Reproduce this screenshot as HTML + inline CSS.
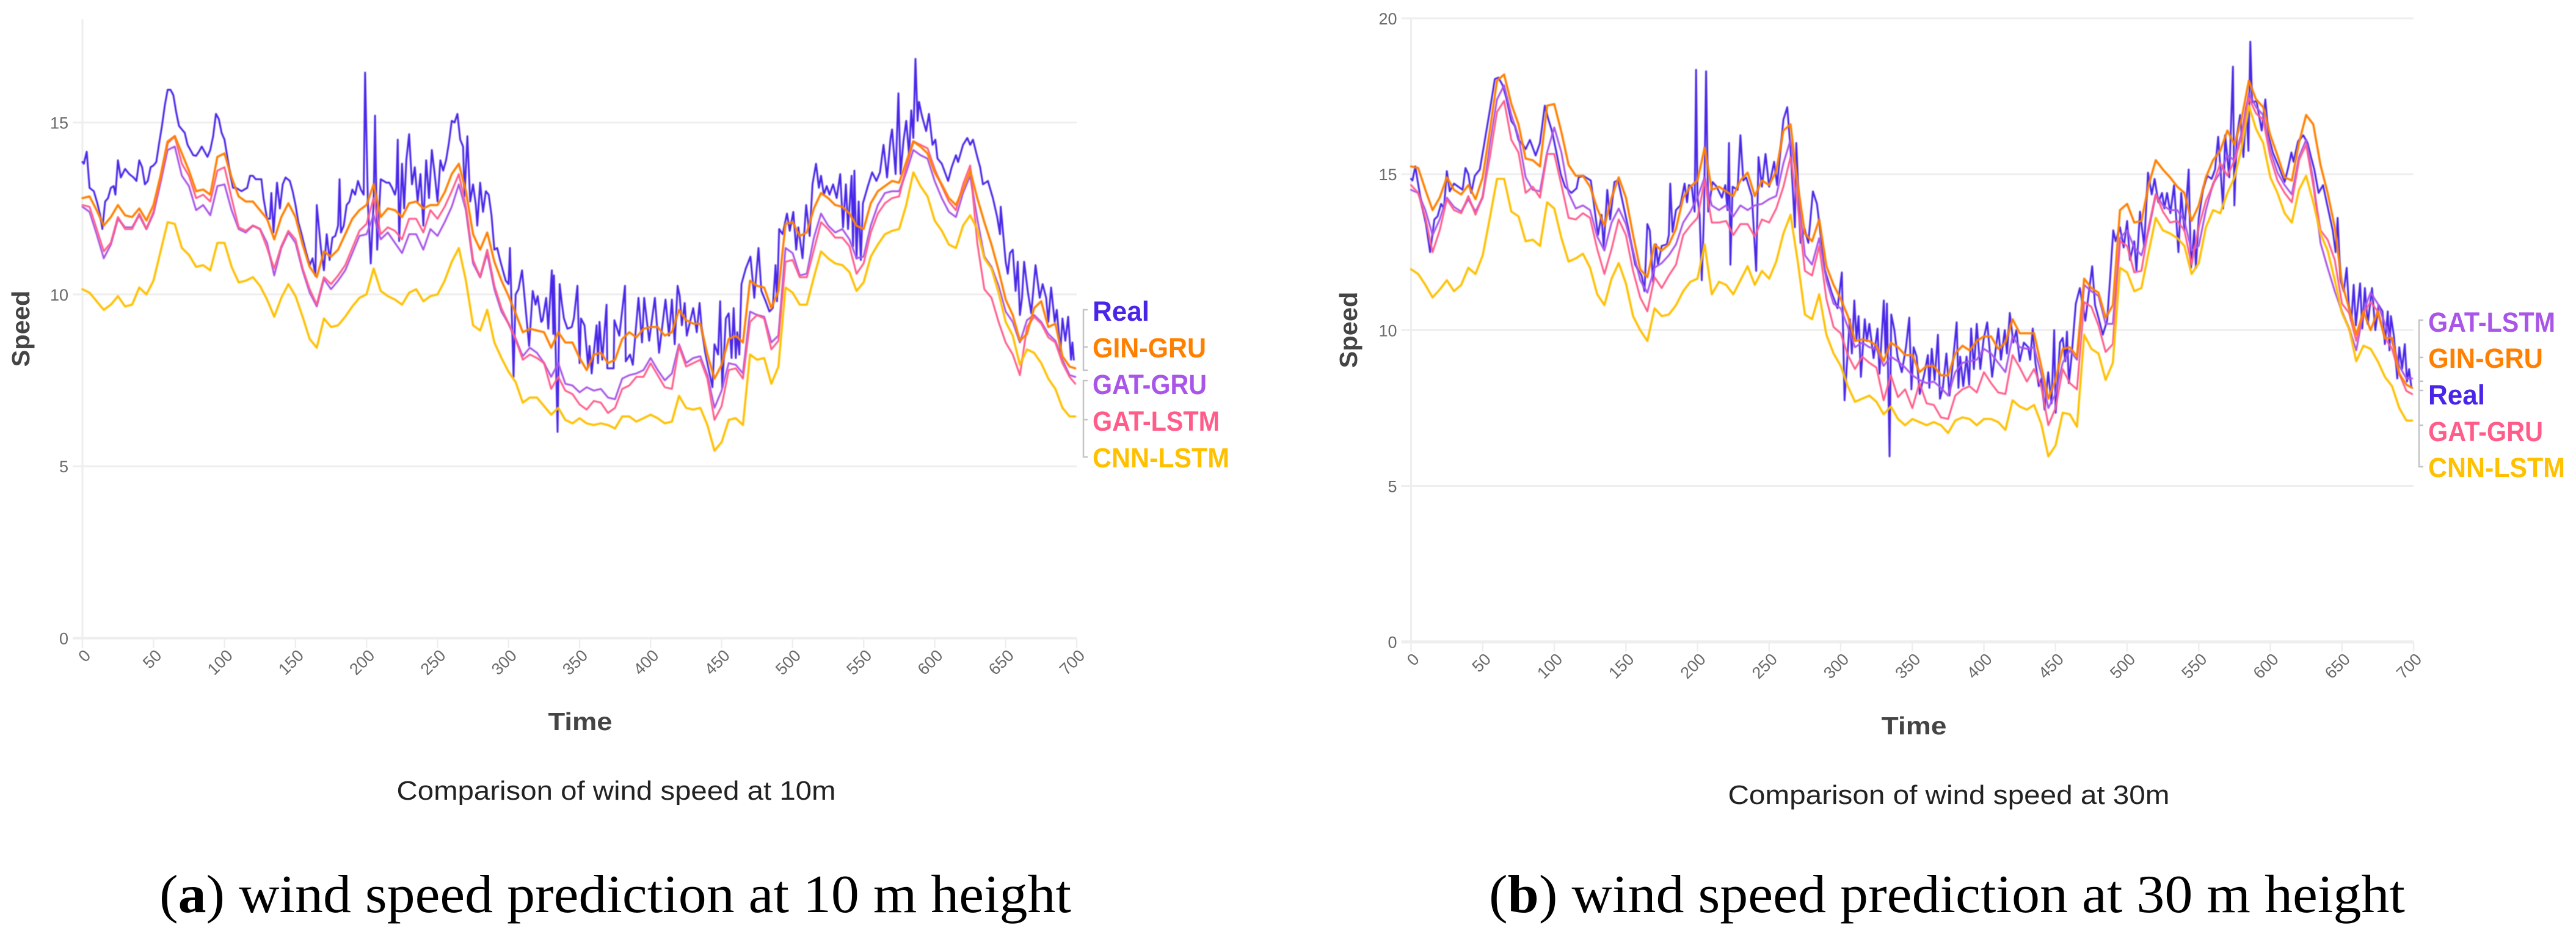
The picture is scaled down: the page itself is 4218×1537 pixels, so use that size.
<!DOCTYPE html>
<html lang="en">
<head>
<meta charset="utf-8">
<title>Wind speed prediction comparison</title>
<style>
  html, body { margin: 0; padding: 0; background: #fff; }
  body { width: 4218px; height: 1537px; overflow: hidden; }
  svg { display: block; }
  .tick { font-family: "Liberation Sans", sans-serif; font-size: 27px; fill: #6a6a6a; }
  .axis-title { font-family: "Liberation Sans", sans-serif; font-size: 41px; font-weight: bold; fill: #444; }
  .legend { font-family: "Liberation Sans", sans-serif; font-size: 45px; font-weight: bold; }
  .sub { font-family: "Liberation Sans", sans-serif; font-size: 44px; fill: #222; }
  .cap { font-family: "Liberation Serif", serif; font-size: 88px; fill: #000; }
  .guide { fill: none; stroke: #c4c4c4; stroke-width: 2.5; }
</style>
</head>
<body>
<svg id="figure" xmlns="http://www.w3.org/2000/svg" width="4218" height="1537" viewBox="0 0 4218 1537">
  <defs>
    <filter id="soft" x="-2%" y="-2%" width="104%" height="104%"><feGaussianBlur stdDeviation="0.7"/></filter>
  </defs>
  <rect x="0" y="0" width="4218" height="1537" fill="#fff"/>

  <g id="chart10">
    <text class="axis-title" transform="translate(48,538) rotate(-90)" text-anchor="middle" textLength="125" lengthAdjust="spacingAndGlyphs">Speed</text>
    <text class="axis-title" x="950" y="1195" text-anchor="middle" textLength="105" lengthAdjust="spacingAndGlyphs">Time</text>
    <text class="sub" x="1009" y="1309" text-anchor="middle" textLength="719" lengthAdjust="spacingAndGlyphs">Comparison of wind speed at 10m</text>
    <path class="guide" d="M1781 507H1774V606H1781M1781 568H1774M1781 623H1774V748H1781M1781 687H1774"/>
    <text class="legend" x="1789" y="525" fill="#4a25e8" textLength="93" lengthAdjust="spacingAndGlyphs">Real</text>
    <text class="legend" x="1789" y="585" fill="#ff8000" textLength="186" lengthAdjust="spacingAndGlyphs">GIN-GRU</text>
    <text class="legend" x="1789" y="645" fill="#a855e8" textLength="187" lengthAdjust="spacingAndGlyphs">GAT-GRU</text>
    <text class="legend" x="1789" y="705" fill="#ff5c8a" textLength="208" lengthAdjust="spacingAndGlyphs">GAT-LSTM</text>
    <text class="legend" x="1789" y="765" fill="#ffc000" textLength="224" lengthAdjust="spacingAndGlyphs">CNN-LSTM</text>
  </g>

  <g id="chart30">
    <text class="axis-title" transform="translate(2222,540) rotate(-90)" text-anchor="middle" textLength="125" lengthAdjust="spacingAndGlyphs">Speed</text>
    <text class="axis-title" x="3134" y="1202" text-anchor="middle" textLength="107" lengthAdjust="spacingAndGlyphs">Time</text>
    <text class="sub" x="3191" y="1316" text-anchor="middle" textLength="723" lengthAdjust="spacingAndGlyphs">Comparison of wind speed at 30m</text>
    <path class="guide" d="M3968 524H3961V639H3968M3968 585H3961V624H3968M3968 696H3961V642M3968 764H3961V640"/>
    <text class="legend" x="3976" y="543" fill="#a855e8" textLength="208" lengthAdjust="spacingAndGlyphs">GAT-LSTM</text>
    <text class="legend" x="3976" y="602" fill="#ff8000" textLength="188" lengthAdjust="spacingAndGlyphs">GIN-GRU</text>
    <text class="legend" x="3976" y="662" fill="#4a25e8" textLength="93" lengthAdjust="spacingAndGlyphs">Real</text>
    <text class="legend" x="3976" y="722" fill="#ff5c8a" textLength="188" lengthAdjust="spacingAndGlyphs">GAT-GRU</text>
    <text class="legend" x="3976" y="781" fill="#ffc000" textLength="224" lengthAdjust="spacingAndGlyphs">CNN-LSTM</text>
  </g>

  <text class="cap" x="261" y="1493" textLength="1493" lengthAdjust="spacingAndGlyphs">(<tspan font-weight="bold">a</tspan>) wind speed prediction at 10 m height</text>
  <text class="cap" x="2438" y="1493" textLength="1500" lengthAdjust="spacingAndGlyphs">(<tspan font-weight="bold">b</tspan>) wind speed prediction at 30 m height</text>
</svg>

<script>
// Shared axis tick labels
const xTickLabels = [0,50,100,150,200,250,300,350,400,450,500,550,600,650,700];
const yTickLabels10 = [0,5,10,15];
const yTickLabels30 = [0,5,10,15,20];

// Sample times for the model series (every 5 steps; final reading at 699)
const modelTimes = [
0,5,10,15,20,25,30,35,40,45,
50,55,60,65,70,75,80,85,90,95,
100,105,110,115,120,125,130,135,140,145,
150,155,160,165,170,175,180,185,190,195,
200,205,210,215,220,225,230,235,240,245,
250,255,260,265,270,275,280,285,290,295,
300,305,310,315,320,325,330,335,340,345,
350,355,360,365,370,375,380,385,390,395,
400,405,410,415,420,425,430,435,440,445,
450,455,460,465,470,475,480,485,490,495,
500,505,510,515,520,525,530,535,540,545,
550,555,560,565,570,575,580,585,590,595,
600,605,610,615,620,625,630,635,640,645,
650,655,660,665,670,675,680,685,690,695,
699];

// ---- 10 m chart ----
const realTimes10 = [
0,1,3,5,8,10.5,12.5,14,16,18,
20,22,23.2,25,27,30,33,36,38,40,
42,44,46,48,50,52,54,56,58,60,
62,64,66,68,70,72,74,76,78,80,
82,84,86,88,90,92,94,96,98,100,
102,104,106,108,110,112,114,116,118,120,
122,124,126,127.5,130,132,133,134.5,137,139,
141,143,146,148,150,152,154,157,160,162,
164,165,168,170,172,174,176,178,180,181,
182,184,186,188,190,192,194,196,198,199,
201,203,205,206,207.5,210,212,214,216,218,
220,221,222,223,225,226.5,228,230,232,234,
236,238,240,242,244,246,248,250,252,254,
256,258,260,262,264,266,268,269,271,273,
275,277,278,280,282,284,286,288,290,292,
294,296,298,300,301,303.5,305,307,309.5,312,
314.5,317,319,320.5,323,324,326.5,328,330.5,331.5,
332,334.5,336,337.5,339,341.5,344.5,346,348.5,350,
351,353.5,356,357,358.5,362,363,364,366,369,
369.5,374,374.5,378,382,382.5,385.5,387.5,391.5,394,
395.5,399,403,406,410.5,413,415,417,419,420.5,
422,424,425.5,430,432.5,434.5,436,438.5,441,443.5,
445,447.5,449,450.5,453,455,457,458.5,460,461,
462.5,464,467,470.3,473,476,478,481,483.7,486,
488,489,490.5,493,496,498,500.5,502.5,504,507,
509.5,512,514,516.5,518.5,520,522,524,526,528.5,
531,533.5,535.5,537.5,539,541.5,542.5,543.5,545,546.5,
548,549.5,553,556,559,561.5,564,566.5,569,570,
572.5,574.5,576,578,580,582,583.5,585,586.5,588,
589,591,594,596,598.5,600.5,602,605,609.5,612,
615,616.5,620,623,625,627,630,632,634,637.5,
641,644,646,646.5,650,651.5,653,655,657,658.5,
660,661.5,663,665.5,668,671,674,676,678.5,680,
682,684.5,686,688.5,690,692,694,696,697,698];
const realValues10 = [
13.85,13.8,14.15,13.1,13,12.65,12.3,11.9,12.7,12.8,
13.1,13.15,12.9,13.9,13.4,13.65,13.5,13.4,13.3,13.9,
13.7,13.2,13.3,13.7,13.75,13.85,14.4,14.9,15.5,15.95,
15.95,15.8,15.3,14.9,14.8,14.7,14.35,14.2,14.05,14.03,
14.15,14.3,14.15,14,14.2,14.6,15.25,15.1,14.7,14.5,
14,13.5,13.1,13.1,13.05,13,13.05,13.1,13.45,13.45,
13.35,13.35,13.35,12.8,12.2,12.2,12.95,11.8,13.25,12.5,
13.2,13.4,13.3,13,12.6,12.1,11.8,11.3,10.85,11.05,
10.55,12.6,11.3,10.7,11.75,11,11.65,11.7,12,13.35,
11.8,12,12.6,12.7,13.05,12.9,13.3,13.05,12.9,16.45,
12.6,10.9,12.7,15.2,11.3,13.35,13.3,13.25,13.25,13.1,
12.9,13.1,14.5,11.55,13.8,12.5,13.9,14.66,13.2,13.7,
12.7,13.5,12,13.9,12.8,14.2,13.5,12.7,13.9,13.6,
13.9,14.4,15.05,15,15.25,14.5,14.3,12.85,14.6,12.7,
13.2,12.6,12,13.25,12.4,13,12.9,12.3,11.3,11.35,
11,10.7,10.4,10.3,11.35,7.6,10,10.15,10.7,9.6,
8.5,10.1,9.7,9.95,9.2,9.25,9.9,9,10.7,8.85,
10.55,6,10.3,9.75,9.3,9,9.05,9.3,10.25,8,
9.3,9.1,7.9,8.5,7.7,9.1,8,9.2,8.1,9.7,
7.85,7.85,9.25,8.8,10.25,8.05,8.25,7.95,9.9,8.6,
9.9,8.65,9.9,8.3,9.85,8.8,9.85,8.55,10.25,9.95,
9.1,9.75,8.8,9.6,8.9,9.75,9,8.3,7.8,7.3,
8.55,8.25,9.8,7.3,9.3,9.45,8.15,9.6,8.15,8.9,
8.25,10.3,10.75,11.1,9.9,11.35,10.1,9.8,9.5,9.6,
10.85,9.8,11.9,11.75,12.35,11.85,12.4,11.3,11.95,11.05,
12.6,11.7,13.2,13.8,13.1,13.45,12.9,13.15,12.9,13.2,
12.8,13.5,11.95,13.2,11.9,13.45,11.4,13.6,11.05,12.7,
11,12.65,13.15,13.55,13.3,13.55,14.35,13.4,14.55,14.8,
13.5,15.85,13.5,14.45,15.05,14.05,15.35,14.55,16.85,15.05,
15.6,15.2,14.75,15.25,14.35,14.5,13.95,13.8,13.3,13.7,
14.05,13.85,14.35,14.55,14.35,14.5,14,13.7,13.2,13.3,
12.8,12.25,11.75,12.55,10.95,10.6,11.2,11.3,10.1,10.95,
9.4,9.9,10.95,10.1,9.45,10.85,9.9,10.3,9.9,9.2,
10.2,9.2,9.55,8.35,9.3,8.65,9.35,8.1,8.6,8.1];
const ginGru10 = [
12.8,12.85,12.45,12,12.25,12.6,12.3,12.25,12.5,12.15,
12.6,13.45,14.45,14.6,14.1,13.6,13,13.05,12.9,14,
14.1,13.4,12.85,12.7,12.7,12.45,12.2,11.6,12.25,12.65,
12.25,11.45,10.8,10.5,11.25,11.1,11.3,11.75,12.2,12.45,
12.6,13.2,12.25,12.5,12.45,12.25,12.65,12.7,12.5,12.6,
12.6,12.97,13.5,13.8,13,11.75,11.3,11.8,10.95,10.4,
9.95,9.45,8.9,9,8.95,8.9,8.45,8.9,8.6,8.6,
8.15,7.8,8.25,8.3,8,8.1,8.7,8.9,8.75,9,
9.05,9.05,8.8,8.9,9.55,9.25,9.15,9.15,8.25,7.55,
7.95,8.7,8.8,8.6,10.4,10.25,10.2,9.6,10.1,12.05,
12.1,11.7,11.8,12.5,12.95,12.8,12.6,12.55,12.35,12,
11.9,12.65,13,13.15,13.3,13.25,13.85,14.45,14.3,14.1,
13.55,13.2,12.8,12.6,13.05,13.6,12.8,12.1,11.45,10.7,
9.85,9.4,8.65,8.85,9.6,9.8,9.05,9.15,8.2,7.9,
7.85];
const gatGru10 = [
12.55,12.4,11.75,11.05,11.45,12.2,11.95,11.95,12.3,11.9,
12.35,13.25,14.2,14.3,13.45,13.15,12.45,12.6,12.3,13.15,
13.2,12.45,11.9,11.8,12,11.9,11.5,10.55,11.35,11.8,
11.5,10.7,10.05,9.65,10.45,10.15,10.4,10.7,11.2,11.7,
11.75,12.3,11.6,11.8,11.5,11.2,11.75,11.75,11.3,11.9,
11.7,12.1,12.55,13.2,12.45,10.9,10.5,11.2,10.15,9.5,
9.15,8.7,8.2,8.45,8.3,8,7.6,8,7.4,7.35,
7.15,7.3,7.2,7.25,7,6.95,7.55,7.65,7.7,7.8,
8.15,7.8,7.5,7.7,8.55,8,8.15,8.2,7.65,6.7,
7.2,8,7.95,7.7,9.5,9.4,9.35,8.6,8.8,11.35,
11.2,10.55,10.6,11.65,12.35,12,11.8,11.9,11.6,11.05,
11.1,12,12.6,12.95,13,13,13.55,14.2,14.05,13.95,
13.3,12.8,12.4,12.25,12.95,13.45,12.2,11.1,10.8,10.25,
9.5,9.2,8.6,9.25,9.4,9.2,8.85,8.65,8.1,7.65,
7.6];
const gatLstm10 = [
12.6,12.55,11.9,11.25,11.5,12.25,11.9,11.9,12.35,11.9,
12.4,13.35,14.4,14.6,13.8,13.45,12.8,12.9,12.7,13.6,
13.7,12.8,11.95,11.85,12,11.9,11.35,10.75,11.4,11.85,
11.6,10.75,10.15,9.7,10.5,10.3,10.55,10.85,11.35,11.85,
12.05,12.8,11.75,11.95,11.85,11.6,12.2,12.2,11.8,12.45,
12.2,12.55,13,13.5,12.55,11,10.5,11.3,10.25,9.6,
9.15,8.7,8.1,8.25,8.15,8,7.25,7.6,7.2,7.1,
6.8,6.65,6.9,6.85,6.55,6.7,7.25,7.35,7.6,7.6,
8,7.65,7.3,7.25,8.5,7.9,8,8.1,7.55,6.35,
6.75,7.8,7.85,7.55,9.2,9.4,9.3,8.4,8.65,10.95,
11,10.5,10.5,11.3,12.1,11.9,11.65,11.65,11.4,10.6,
10.9,11.8,12.35,12.65,12.8,12.85,13.7,14.45,14.35,14.25,
13.65,13.15,12.7,12.45,13.2,13.75,11.5,10.15,9.9,9.2,
8.6,8.25,7.65,9.05,9.35,9.15,8.75,8.6,8,7.6,
7.4];
const cnnLstm10 = [
10.15,10.05,9.8,9.55,9.7,9.95,9.65,9.7,10.2,10,
10.4,11.25,12.1,12.05,11.35,11.15,10.8,10.85,10.7,11.5,
11.5,10.8,10.35,10.4,10.5,10.25,9.85,9.35,9.9,10.3,
9.95,9.35,8.7,8.45,9.3,9.05,9.1,9.35,9.65,9.9,
10,10.75,10.1,9.95,9.85,9.7,10.05,10.15,9.8,9.95,
10,10.4,10.95,11.35,10.4,9.1,8.95,9.55,8.6,8.15,
7.75,7.45,6.85,7,7,6.75,6.5,6.7,6.35,6.25,
6.4,6.25,6.2,6.25,6.2,6.1,6.45,6.45,6.3,6.4,
6.5,6.4,6.25,6.3,7.05,6.7,6.65,6.7,6.2,5.45,
5.7,6.35,6.4,6.2,8.25,8.1,8.15,7.4,7.9,10.2,
10.05,9.7,9.7,10.5,11.25,11.05,10.9,10.85,10.65,10.1,
10.35,11.1,11.45,11.75,11.85,11.9,12.6,13.55,13.15,12.85,
12.15,11.85,11.45,11.35,12,12.3,11.9,11.05,10.75,10.05,
9.2,8.8,7.95,8.4,8.3,8,7.55,7.25,6.7,6.45,
6.45];

// ---- 30 m chart ----
const realTimes30 = [
0,1,3,4.5,7.5,10.4,13.3,16.3,18.5,21,
23,25,27,30,33,36,38,40,42,44.5,
48,51,55,58.5,61,64,66.5,70,72.5,75,
78,80,83,87,90,93.4,95.6,98.6,101.5,104.5,
107.5,112,115.6,117,120,125.5,127.5,130.5,133,134.5,
137,139,142,144.5,148,152,156.5,161,163,165,
166.7,169,171,172.4,175,178.6,180,181,182.6,185,
188,191,192.7,194,196,198,199,200,201.5,203,
204.5,206,207.5,210.5,213.4,217,219.4,221,222,223,
224.5,228,230,232,234,238,241,242.6,245,247.5,
250,253.5,255.6,260,262.7,265,268,269,272,274.7,
277.4,280.6,283.4,285.5,288.8,293.7,297.8,300.8,302.7,306.4,
307.8,309.5,311,312.5,314.1,316.8,318.3,320,323,325.7,
327.1,330.1,331.3,332.3,334.1,335.3,337.5,339.7,342.7,345.6,
347.9,349.4,350.9,353,355.2,358.2,360.9,361.9,363.6,365.6,
367.9,369.3,371.3,373.8,376,378.3,381,382.2,383.4,385.6,
387.9,389.7,391.1,393,395,397.5,399.8,402.3,405.7,410.1,
411.9,414.6,416.1,418.1,420.5,422.7,425,427.9,430.9,432.3,
434.1,436,438.3,440.2,442.4,444.9,447.2,449.1,450.1,453.1,
455,456.8,458,459.3,461.2,464.2,467,470.8,475.6,477.6,
480,483,486,488.2,490.3,492,495,497.6,500,502,
505,506.5,509,511.9,514.6,517.2,519.2,521.8,524.4,526,
527.9,530.2,532.8,535.8,537.8,540,543,544.6,546.9,548,
550,552.9,556,559,561.4,563.6,565.2,567,568.5,571.3,
573.9,574.9,576.6,578.9,581.2,583.2,584.7,586,587.3,590.3,
594,596.5,598.7,601.7,606.3,610,612.4,614.7,616.2,619.3,
623,626,628.4,630.7,633.7,636.8,639.8,643.6,645.6,647,
649,651.3,653.3,654.8,656.6,658.2,659.7,662.7,664.2,666,
668,671,673.3,675.6,678.3,680,682,683.2,684.2,686.3,
688.6,690,692,693.9,695.4,696.9,698.4];
const realValues30 = [
14.85,14.8,15.25,14.8,14,13.4,12.5,13.55,13.65,14.05,
13.9,15.1,14.45,14.7,14.6,14.5,15.2,15,14.4,14.95,
15.15,15.95,17.05,18.05,18.1,17.85,17.45,16.7,16.55,16.1,
15.95,15.8,16.1,15.6,16,17.2,16.8,16.35,15.7,15,
14.6,14.4,14.55,14.9,14.95,14.8,14.1,13.05,13.7,12.65,
14.5,13.55,14.75,14.8,14.05,13.2,12.1,11.75,11.25,13.4,
13.2,11.55,12.75,12.1,12.7,12.75,13.05,14.7,13.15,13.85,
14,14.7,14.1,14.65,14.6,13.8,18.35,14.25,13.7,11.6,
13.7,18.3,13.8,14.75,14.6,14.25,14.65,13.85,16,12.1,
14.6,14.5,16.25,14.8,14.9,14.3,11.9,15.55,14.6,15.65,
14.6,15.4,14.65,16.75,17.15,15.8,13.3,16,12.8,13.25,
12.8,14.45,14.05,13.25,11.95,11.2,10.7,11.85,7.75,10.35,
9.25,10.95,9.7,10.45,8.5,10.35,9.65,10.2,9.1,10.05,
8.6,10.95,9.25,10.85,5.95,10.5,10,9.15,8.65,9.45,
10.4,8.1,9.45,9.15,7.95,8.55,9.2,8.15,9.4,8.4,
9.85,7.8,8.15,9.25,7.9,8.95,10.25,8.15,9.15,8.2,
9.15,8.25,10.05,8.75,10.2,8.75,9.7,10.25,8.5,10.05,
9.05,10,9.25,10.55,9.6,10,9,9.6,9.45,9.05,
10.05,8.95,8.2,8.45,7.45,8.65,7.65,10,7.35,9.6,
9.75,9,9.95,8.3,9.15,10.85,11.35,10.3,12.05,10.8,
10.4,9.85,10.3,11.7,13.2,12.85,13.3,12.65,13.5,12.25,
12.85,11.9,13.8,12.7,15.05,14.35,14.85,14.1,14.4,13.9,
14.4,13.75,14.65,12.5,14.4,13.2,15.15,12,13.2,12,
13.6,14.5,14.95,14.85,15.15,16.2,15.15,13.9,16.25,14.9,
18.45,14,16.2,16.9,15.55,17.15,15.75,19.25,17.3,17.35,
16.4,17.4,16.25,15.7,15.2,14.75,15.2,15.7,15.4,16.05,
16.25,16,15.55,15.15,14.4,14.65,14,13.2,12.5,13.6,
11.6,11.25,12,10.8,10.3,11.45,10.15,11.5,10.05,11.35,
10.2,11.35,10,10.8,10.6,9.55,10.6,9.35,10.45,9.8,
8.45,9.45,8.75,9.55,8.35,8.75,8.2];
const ginGru30 = [
15.25,15.2,14.5,13.85,14.25,14.9,14.5,14.35,14.65,14.2,
14.9,16.4,18,18.2,17.25,16.6,15.5,15.45,15.25,17.2,
17.25,16.35,15.3,14.95,14.95,14.6,13.9,13.35,14.25,14.9,
14.25,13.05,11.95,11.7,12.75,12.55,12.75,13.25,14.25,14.6,
14.8,15.85,14.5,14.6,14.45,14.3,14.8,15.05,14.3,14.8,
14.65,15.1,16.4,16.6,14.65,13.1,12.85,13.55,12.05,11.45,
11,10.45,9.65,9.7,9.65,9.5,9,9.6,9.45,9.2,
9.2,8.65,8.85,8.85,8.55,8.55,9.25,9.5,9.35,9.65,
9.8,9.8,9.4,9.6,10.35,9.9,9.9,9.9,8.85,7.8,
8.4,9.4,9.45,9.15,11.65,11.35,11.2,10.4,10.8,13.85,
14.05,13.45,13.5,14.65,15.45,15.15,14.9,14.6,14.4,13.5,
14,14.9,15.45,15.75,16.4,15.95,16.8,18,17.4,17.15,
16.25,15.6,14.9,14.8,16,16.9,16.6,15.3,14.4,13.3,
11.5,10.7,9.85,10.6,10,10.6,9.75,9.75,8.6,8.25,
8.15];
const gatLstm30 = [
14.5,14.4,13.85,13.05,13.55,14.25,13.95,13.8,14.2,13.8,
14.25,15.95,17.4,17.85,16.9,16.2,14.9,14.5,14.45,15.7,
16.5,15.7,14.4,13.9,14,13.85,13,12.55,13.45,13.9,
13.4,12.55,11.6,11.2,12,12.15,12.4,12.75,13.45,13.8,
14.25,14.9,14,13.85,14,13.65,14,13.85,14,14.05,
14.2,14.3,15.35,16.1,14.6,12.4,12.1,12.95,11.6,10.85,
10.7,10.1,9.45,9.6,9.45,9.4,8.85,9.15,9,8.8,
8.55,8.4,8.3,8.35,8.15,7.9,8.65,8.95,9,9.05,
9.4,9.25,8.95,8.65,9.8,9.45,9.4,9.45,8.6,7.5,
7.95,8.95,9.35,9.05,11.45,11.25,11.1,10.2,10.2,12.95,
13.2,12.65,12.4,13.2,14.35,14,13.85,13.85,13.5,12.55,
12.7,13.85,14.7,15.05,15.6,15.45,16.35,17.6,17.15,16.9,
15.75,15.05,14.65,14.35,15.55,16.1,14.8,12.8,12,11.25,
10.6,10.05,9.35,10.6,11.2,10.85,10.2,9.65,8.85,8.45,
8.45];
const gatGru30 = [
14.65,14.4,13.6,12.5,13.2,14.2,13.85,13.75,14.3,13.7,
14.3,15.55,17,17.35,16.1,15.7,14.4,14.6,14.25,15.65,
15.65,14.65,13.6,13.55,13.75,13.6,12.6,11.8,12.6,13.55,
13.05,11.9,11.05,10.6,11.7,11.35,11.75,12.1,13.05,13.35,
13.6,14.8,13.45,13.45,13.5,13.05,13.4,13.4,13,13.55,
13.45,13.9,14.6,15.55,14,11.9,11.75,12.7,11,10.1,
9.9,9.2,8.75,9.15,8.95,8.8,7.75,8.55,7.85,8.1,
7.5,8.3,7.65,7.6,7.2,7.15,7.9,8.1,8.2,8,
8.65,8.3,8,7.95,9.2,8.8,8.35,8.75,8.2,6.95,
7.5,8.75,8.3,8.1,10.9,10.75,10.15,9.3,9.55,12.85,
12.7,11.85,11.9,13.3,14.35,13.8,13.45,13.5,13.2,12.1,
13.3,14.15,14.65,15.35,14.95,15.45,16.2,17.45,16.95,16.75,
15.55,14.8,14.4,14.1,15.45,15.95,14.65,13.2,12.9,12.25,
10.85,10.55,9.65,10.55,10.9,10.6,9.75,9.4,8.6,8.05,
7.95];
const cnnLstm30 = [
11.95,11.8,11.45,11.05,11.3,11.6,11.25,11.45,12,11.8,
12.4,13.6,14.85,14.85,13.8,13.65,12.85,12.9,12.7,14.1,
13.9,12.95,12.2,12.3,12.45,12,11.15,10.8,11.65,12.15,
11.5,10.45,10,9.65,10.7,10.45,10.5,10.8,11.25,11.55,
11.65,12.75,11.15,11.55,11.45,11.15,11.6,12.05,11.45,11.9,
11.65,12.2,13.1,13.7,12.2,10.5,10.35,11.15,9.85,9.25,
8.85,8.2,7.7,7.8,7.9,7.7,7.3,7.55,7.15,6.95,
7.15,7.05,6.95,7.05,6.95,6.7,7.1,7.2,7.15,6.95,
7.15,7.15,7.05,6.8,7.75,7.55,7.45,7.6,7,5.95,
6.3,7.35,7.3,6.9,9.85,9.4,9.25,8.4,8.95,12,
11.85,11.25,11.35,12.5,13.6,13.2,13.1,12.95,12.7,11.8,
12.15,13.3,13.85,13.75,14.4,14.9,15.85,17.2,16.45,16,
14.9,14.4,13.75,13.45,14.5,14.95,14.1,13.1,12.55,11.6,
10.55,10.05,9,9.5,9.4,9,8.5,8.2,7.5,7.1,
7.1];

const SVG_NS = 'http://www.w3.org/2000/svg';

function makeScale(d0, d1, r0, r1) {
  return function (v) { return r0 + (v - d0) * (r1 - r0) / (d1 - d0); };
}

function drawAxes(group, suffix, xS, yS, yTicks, yMax, xAxisWidth, labelDy) {
  const x0 = xS(0), x1 = xS(700), y0 = yS(0);
  yTicks.forEach(function (t) {
    const grid = document.createElementNS(SVG_NS, 'line');
    
    
    grid.setAttribute('x1', x0 - 16);
    grid.setAttribute('x2', x1);
    grid.setAttribute('y1', yS(t));
    grid.setAttribute('y2', yS(t));
    grid.setAttribute('stroke', '#eeeeee');
    grid.setAttribute('stroke-width', t === 0 ? xAxisWidth : 3);
    group.appendChild(grid);

    const label = document.createElementNS(SVG_NS, 'text');
    
    
    label.setAttribute('class', 'tick');
    label.setAttribute('x', x0 - 23);
    label.setAttribute('y', yS(t) + 10);
    label.setAttribute('text-anchor', 'end');
    label.textContent = t;
    group.appendChild(label);
  });

  const yAxis = document.createElementNS(SVG_NS, 'line');
  
  
  yAxis.setAttribute('x1', x0);
  yAxis.setAttribute('x2', x0);
  yAxis.setAttribute('y1', yS(yMax));
  yAxis.setAttribute('y2', y0);
  yAxis.setAttribute('stroke', '#eeeeee');
  yAxis.setAttribute('stroke-width', 3);
  group.appendChild(yAxis);

  xTickLabels.forEach(function (t) {
    const tick = document.createElementNS(SVG_NS, 'line');
    
    
    tick.setAttribute('x1', xS(t));
    tick.setAttribute('x2', xS(t));
    tick.setAttribute('y1', y0);
    tick.setAttribute('y2', y0 + 16);
    tick.setAttribute('stroke', '#eeeeee');
    tick.setAttribute('stroke-width', 2.5);
    group.appendChild(tick);

    const label = document.createElementNS(SVG_NS, 'text');
    
    
    label.setAttribute('class', 'tick');
    label.setAttribute('text-anchor', 'end');
    label.setAttribute('transform', 'translate(' + (xS(t) + 15) + ',' + (y0 + labelDy) + ') rotate(-45)');
    label.textContent = t;
    group.appendChild(label);
  });
}

function drawLine(group, times, values, xS, yS, color, width, name) {
  const pts = times.map(function (t, i) {
    return xS(t).toFixed(1) + ',' + yS(values[i]).toFixed(1);
  }).join(' ');
  const line = document.createElementNS(SVG_NS, 'polyline');
  
  
  line.setAttribute('points', pts);
  line.setAttribute('fill', 'none');
  line.setAttribute('stroke', color);
  line.setAttribute('stroke-width', width);
  line.setAttribute('stroke-linejoin', 'round');
  line.setAttribute('stroke-linecap', 'round');
  line.setAttribute('filter', 'url(#soft)');
  group.appendChild(line);
}

// 10 m chart
const g10 = document.getElementById('chart10');
const x10 = makeScale(0, 700, 135, 1763);
const y10 = makeScale(0, 15, 1044.6, 200.5);
drawAxes(g10, '10m', x10, y10, yTickLabels10, 18, 4, 30);
drawLine(g10, realTimes10, realValues10, x10, y10, '#4a25e8', 3, 'line-real-10m');
drawLine(g10, modelTimes, gatGru10, x10, y10, '#a855e8', 3, 'line-gat-gru-10m');
drawLine(g10, modelTimes, gatLstm10, x10, y10, '#ff5c8a', 3, 'line-gat-lstm-10m');
drawLine(g10, modelTimes, cnnLstm10, x10, y10, '#ffc000', 3.5, 'line-cnn-lstm-10m');
drawLine(g10, modelTimes, ginGru10, x10, y10, '#ff8000', 3.5, 'line-gin-gru-10m');

// 30 m chart
const g30 = document.getElementById('chart30');
const x30 = makeScale(0, 700, 2310.5, 3952);
const y30 = makeScale(0, 20, 1050.7, 30);
drawAxes(g30, '30m', x30, y30, yTickLabels30, 20, 5, 30);
drawLine(g30, realTimes30, realValues30, x30, y30, '#4a25e8', 3, 'line-real-30m');
drawLine(g30, modelTimes, gatLstm30, x30, y30, '#a855e8', 3, 'line-gat-lstm-30m');
drawLine(g30, modelTimes, gatGru30, x30, y30, '#ff5c8a', 3, 'line-gat-gru-30m');
drawLine(g30, modelTimes, cnnLstm30, x30, y30, '#ffc000', 3.5, 'line-cnn-lstm-30m');
drawLine(g30, modelTimes, ginGru30, x30, y30, '#ff8000', 3.5, 'line-gin-gru-30m');
</script>
</body>
</html>
